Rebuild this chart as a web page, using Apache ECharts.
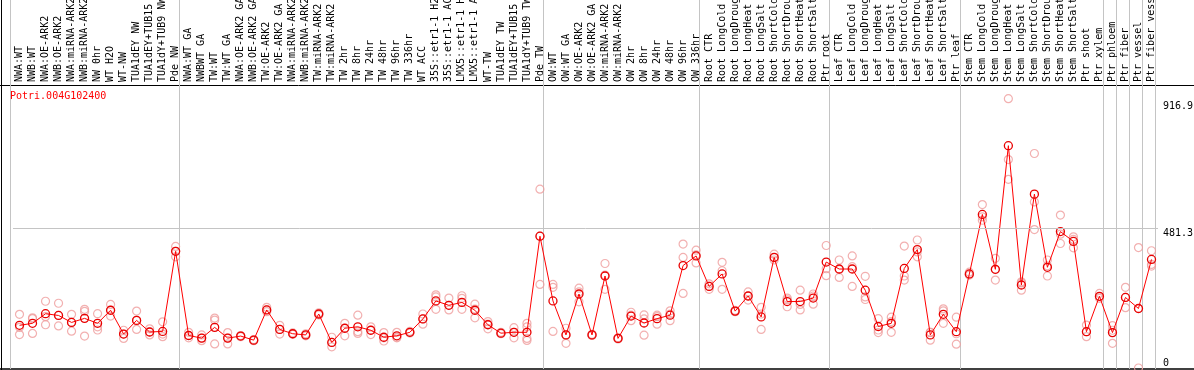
<!DOCTYPE html>
<html>
<head>
<meta charset="utf-8">
<script src="https://cdn.jsdelivr.net/npm/echarts@6/dist/echarts.min.js"></script>
<style>
html, body { margin: 0; padding: 0; background: #fff; }
#main { width: 1194px; height: 370px; }
</style>
</head>
<body>
<div id="main"></div>
<script>
var geneId = 'Potri.004G102400';

var categories = [
    'NWA:WT', 'NWB:WT', 'NWA:OE-ARK2', 'NWB:OE-ARK2', 'NWA:miRNA-ARK2', 'NWB:miRNA-ARK2', 'NW 0hr', 'WT H2O', 'WT-NW',
    'TUA1dEY NW', 'TUA1dEY+TUB15 NW', 'TUA1dY+TUB9 NW', 'Pde NW',
    'NWA:WT GA', 'NWBWT GA', 'TW:WT', 'TW:WT GA', 'NWA:OE-ARK2 GA', 'NWB:OE-ARK2 GA', 'TW:OE-ARK2', 'TW:OE-ARK2 GA',
    'NWA:miRNA-ARK2', 'NWB:miRNA-ARK2', 'TW:miRNA-ARK2', 'TW:miRNA-ARK2', 'TW 2hr', 'TW 8hr', 'TW 24hr', 'TW 48hr',
    'TW 96hr', 'TW 336hr', 'WT ACC', '35S::etr1-1 H2O', '35S::etr1-1 ACC', 'LMX5::etr1-1 H2O', 'LMX5::etr1-1 ACC',
    'WT-TW', 'TUA1dEY TW', 'TUA1dEY+TUB15 TW', 'TUA1dY+TUB9 TW', 'Pde TW',
    'OW:WT', 'OW:WT GA', 'OW:OE-ARK2', 'OW:OE-ARK2 GA', 'OW:miRNA-ARK2', 'OW:miRNA-ARK2', 'OW 2hr', 'OW 8hr',
    'OW 24hr', 'OW 48hr', 'OW 96hr', 'OW 336hr',
    'Root CTR', 'Root LongCold', 'Root LongDrought', 'Root LongHeat', 'Root LongSalt', 'Root ShortCold',
    'Root ShortDrought', 'Root ShortHeat', 'Root ShortSalt', 'Ptr root',
    'Leaf CTR', 'Leaf LongCold', 'Leaf LongDrought', 'Leaf LongHeat', 'Leaf LongSalt', 'Leaf ShortCold',
    'Leaf ShortDrought', 'Leaf ShortHeat', 'Leaf ShortSalt', 'Ptr leaf',
    'Stem CTR', 'Stem LongCold', 'Stem LongDrought', 'Stem LongHeat', 'Stem LongSalt', 'Stem ShortCold',
    'Stem ShortDrought', 'Stem ShortHeat', 'Stem ShortSalt', 'Ptr shoot', 'Ptr xylem',
    'Ptr phloem', 'Ptr fiber', 'Ptr vessel', 'Ptr fiber vessel'
];

// first category of each sample group (grey separators)
var groupStarts = [0, 13, 41, 53, 63, 73, 84, 85, 86, 87];

var means = [
    147, 154, 187, 181, 157, 171, 154, 199, 117, 164, 124, 126, 402,
    112, 103, 140, 103, 110, 96, 200, 133, 118, 114, 186, 88, 137, 142, 130, 106, 111, 123, 169, 231, 216, 226, 199, 149, 120, 123, 123, 454,
    231, 114, 255, 114, 317, 102, 179, 155, 170, 182, 353, 386,
    281, 324, 196, 248, 176, 381, 229, 229, 241, 365,
    341, 341, 268, 143, 154, 343, 408, 114, 185, 125,
    324, 529, 340, 766, 286, 599, 347, 470, 436, 125, 247,
    122, 243, 205, 374
];

var reps = [
    [185, 140, 115], [173, 170, 119], [230, 177, 149], [223, 181, 145], [185, 157, 127], [202, 195, 110],
    [187, 142, 131], [219, 199, 179], [130, 117, 102], [196, 164, 133], [135, 124, 114], [159, 117, 108],
    [419, 402, 383],
    [123, 112, 104], [114, 103, 94], [172, 165, 83], [122, 103, 83], [112, 110, 108], [98, 96, 94],
    [209, 200, 194], [147, 133, 117], [121, 118, 116], [118, 113, 111], [190, 186, 183], [106, 88, 73],
    [154, 137, 111], [182, 125, 119], [142, 130, 115], [122, 104, 93], [123, 106, 104], [126, 122, 121],
    [186, 169, 151], [252, 245, 202], [241, 216, 200], [249, 240, 202], [220, 203, 173], [160, 151, 135],
    [123, 119, 118], [139, 123, 104], [154, 142, 102, 95], [616, 454, 288],
    [288, 278, 126], [137, 114, 85], [275, 262, 228], [116, 114, 112], [360, 320, 271], [104, 102, 100],
    [192, 182, 163], [183, 169, 113], [182, 177, 151], [197, 186, 163], [427, 381, 257], [406, 390, 362],
    [290, 282, 271], [364, 335, 271], [199, 195, 194], [262, 248, 234], [209, 186, 133], [392, 380, 372],
    [241, 235, 211], [268, 219, 200], [255, 248, 220], [422, 342, 318],
    [372, 339, 312], [386, 349, 281], [316, 245, 236], [170, 131, 122], [175, 160, 123], [420, 317, 303],
    [441, 400, 383], [123, 123, 96], [204, 197, 154], [175, 118, 82],
    [330, 322, 320], [563, 521, 509], [378, 339, 303], [928, 718, 650], [297, 293, 268], [739, 572, 477],
    [372, 352, 317], [527, 461, 429], [452, 443, 414], [148, 125, 108], [257, 245, 240],
    [146, 130, 85], [278, 243, 208], [415, 205, 0], [404, 357, 351]
];

var yTicks = [481.3, 916.9];
var yZeroTick = [0];
var yMax = 975;

var font = 'DejaVu Sans Mono';

var repPoints = [];
reps.forEach(function (r, i) {
    r.forEach(function (v) { repPoints.push([i, v]); });
});

var option = {
    animation: false,
    backgroundColor: '#fff',
    title: {
        text: geneId,
        left: 10,
        top: 91,
        padding: 0,
        textStyle: { fontFamily: font, fontSize: 10, fontWeight: 'normal', color: '#ff0000' }
    },
    grid: [
        { left: 13, right: 36, top: 85, bottom: 2, containLabel: false, outerBoundsMode: 'none' },
        { left: 10, right: 39, top: 0, bottom: 1, containLabel: false, outerBoundsMode: 'none' }
    ],
    xAxis: [
        {
            type: 'category',
            gridIndex: 0,
            position: 'top',
            data: categories,
            boundaryGap: true,
            axisLine: { show: false },
            axisTick: { show: false },
            splitLine: { show: false },
            axisLabel: { interval: 0, rotate: 90, margin: 3, fontFamily: font, fontSize: 10, color: '#000' }
        },
        {
            type: 'category',
            gridIndex: 1,
            data: categories,
            boundaryGap: true,
            axisLine: { show: false },
            axisTick: { show: false },
            axisLabel: { show: false },
            splitLine: {
                show: true,
                interval: function (i) { return groupStarts.indexOf(i) >= 0; },
                lineStyle: { color: '#c4c4c4', width: 1 }
            }
        }
    ],
    yAxis: [
        {
            type: 'value',
            gridIndex: 0,
            position: 'right',
            min: 0,
            max: yMax,
            axisLine: { show: false },
            axisTick: { show: false },
            splitLine: { show: false },
            axisLabel: {
                customValues: yTicks,
                verticalAlign: 'top',
                margin: 5,
                fontFamily: font, fontSize: 10, color: '#000',
                formatter: function (v) { return String(v); }
            }
        },
        {
            type: 'value',
            gridIndex: 0,
            position: 'right',
            offset: 0,
            min: 0,
            max: yMax,
            axisLine: { show: false },
            axisTick: { show: false },
            splitLine: { show: false },
            axisLabel: {
                customValues: yZeroTick,
                verticalAlign: 'bottom',
                margin: 5,
                fontFamily: font, fontSize: 10, color: '#000',
                formatter: function (v) { return String(v); }
            }
        },
        { type: 'value', gridIndex: 1, show: false }
    ],
    series: [
        {
            name: 'replicates',
            type: 'scatter',
            xAxisIndex: 0,
            yAxisIndex: 0,
            data: repPoints,
            symbol: 'circle',
            symbolSize: 8,
            z: 2,
            itemStyle: { color: 'rgba(0,0,0,0)', borderColor: '#ef9c9c', borderWidth: 1.2 }
        },
        {
            name: 'mean',
            type: 'line',
            xAxisIndex: 0,
            yAxisIndex: 0,
            data: means,
            symbol: 'circle',
            symbolSize: 8,
            showAllSymbol: true,
            z: 3,
            lineStyle: { color: '#ff0000', width: 1 },
            itemStyle: { color: 'rgba(0,0,0,0)', borderColor: '#e80000', borderWidth: 1.3 },
            markLine: {
                silent: true,
                symbol: 'none',
                label: { show: false },
                lineStyle: { color: '#c4c4c4', width: 1, type: 'solid' },
                data: [{ yAxis: yTicks[0] }]
            }
        }
    ],
    graphic: [
        { type: 'line', silent: true, shape: { x1: 1.5, y1: 0, x2: 1.5, y2: 370 }, style: { stroke: '#000', lineWidth: 1 } },
        { type: 'line', silent: true, shape: { x1: 0, y1: 85.5, x2: 1194, y2: 85.5 }, style: { stroke: '#000', lineWidth: 1 } },
        { type: 'line', silent: true, shape: { x1: 0, y1: 369, x2: 1194, y2: 369 }, style: { stroke: '#000', lineWidth: 1.5 } },
        { type: 'line', silent: true, shape: { x1: 1155.5, y1: 0, x2: 1155.5, y2: 85 }, style: { stroke: '#000', lineWidth: 1 } }
    ]
};

var myChart = echarts.init(document.getElementById('main'), null, { renderer: 'canvas' });
myChart.setOption(option);
</script>
</body>
</html>
